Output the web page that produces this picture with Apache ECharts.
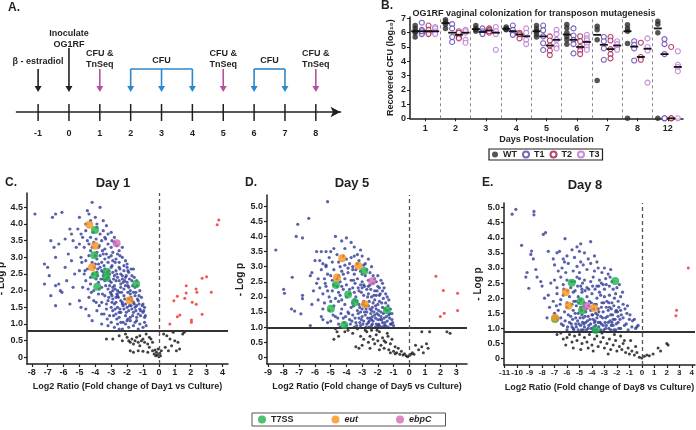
<!DOCTYPE html>
<html>
<head>
<meta charset="utf-8">
<script src="https://cdn.jsdelivr.net/npm/echarts@6/dist/echarts.min.js"></script>
<style>
  html, body { margin: 0; padding: 0; background: #fff; }
  #chart { width: 696px; height: 430px; }
</style>
</head>
<body>
<div id="chart"></div>
<script>
// ---------- A. timeline ----------
const timelineDays = [-1, 0, 1, 2, 3, 4, 5, 6, 7, 8];
const treatDays = [-1, 0];
const treatLabels = ['β - estradiol', 'Inoculate\nOG1RF'];
const tnseqDays = [1, 5, 8];
const cfuGroups = [[2, 3, 4], [6, 7]];

// ---------- B. CFU per mouse (log10) ----------
const cfuDays = ['1', '2', '3', '4', '5', '6', '7', '8', '12'];
const wtCFU = [
  [6.5, 6.3, 6.1, 6.0, 5.7], [6.9, 6.75, 6.6, 6.3], [6.5, 6.3, 6.2, 6.1], [6.4, 6.3, 6.2, 6.25],
  [6.5, 6.26, 6.1, 5.9, 5.7], [6.57, 6.33, 6.0, 5.74, 5.5, 5.19], [6.45, 6.2, 5.5, 2.65],
  [6.55, 6.3, 6.1, 5.25, 0], [6.8, 6.6, 6.0, 0]
];
const t1CFU = [
  [6.7, 6.2, 6.0, 5.9, 6.1], [6.6, 6.3, 5.7, 5.35], [6.3, 6.1, 6.0, 5.9], [6.5, 6.2, 6.0, 5.85],
  [6.5, 6.17, 5.74, 5.26, 4.79], [6.3, 5.8, 5.5, 5.2, 4.55], [5.7, 5.4, 4.9, 4.1],
  [5.4, 5.15, 4.9, 4.05], [5.55, 5.2, 4.5, 0, 0]
];
const t2CFU = [
  [6.5, 6.2, 6.0, 5.9], [6.1, 6.0, 5.7, 5.6], [6.3, 6.2, 6.0, 6.1], [6.0, 5.85, 5.6, 5.9],
  [5.74, 5.45, 5.1, 4.74, 4.43], [5.75, 5.4, 5.0, 4.75, 4.5], [5.7, 5.45, 4.85, 4.5, 4.2],
  [5.3, 4.3, 4.1], [5.0, 0, 0]
];
const t3CFU = [
  [6.4, 6.3, 6.1, 6.0, 5.9], [6.2, 6.0, 6.1, 5.5, 5.3], [6.4, 6.1, 5.9, 4.8], [6.3, 6.0, 5.5, 5.2],
  [6.2, 5.9, 5.5, 5.1, 4.9], [5.85, 5.6, 5.45, 5.25, 5.0, 4.8], [5.4, 5.2, 5.0, 4.8],
  [5.6, 5.0, 4.75, 2.5], [4.7, 3.75, 3.6, 3.3, 0]
];

// ---------- C. Day 1 volcano ----------
const d1Blue = [
  [-7.8,4.3],[-6.7,4.2],[-6.5,4.3],[-6.1,4.35],[-4.2,4.65],[-3.7,4.5],[-4.5,4.4],[-4.3,4.1],[-5.0,4.2],[-5.1,3.85],
  [-5.5,3.7],[-5.6,3.85],[-6.8,3.5],[-6.6,3.3],[-6.5,3.0],[-6.3,3.4],[-7.2,2.8],[-7.0,2.7],[-6.9,2.45],[-7.2,2.2],
  [-6.5,2.15],[-6.3,2.2],[-6.2,2.0],[-6.8,1.85],[-6.5,1.55],[-5.6,1.6],[-6.1,1.95],[-5.8,2.3],[-5.9,2.7],[-5.5,2.9],
  [-5.7,3.1],[-5.2,3.3],[-5.4,3.5],[-5.9,3.55],[-5.3,2.5],[-5.4,2.1],[-5.0,1.7],[-4.9,1.5],[-4.6,1.45],[-4.4,1.25],[-4.2,1.1],
  [-4.6,4.0],[-4.0,4.2],[-3.9,4.0],[-3.5,4.1],[-3.3,3.95],[-4.4,4.3],
  [-4.9,3.7],[-4.6,3.8],[-4.3,3.6],[-3.9,3.9],[-3.7,3.7],[-3.5,3.8],[-3.2,3.7],[-3.0,3.75],[-2.8,3.6],[-4.8,3.6],[-3.4,3.6],
  [-5.0,3.4],[-4.7,3.3],[-4.5,3.5],[-4.3,3.2],[-4.1,3.45],[-3.8,3.3],[-3.6,3.5],[-3.4,3.25],[-3.2,3.4],[-3.0,3.3],[-2.8,3.45],
  [-2.5,3.2],[-2.3,3.3],[-3.9,3.15],[-3.5,3.1],[-2.9,3.15],
  [-4.9,3.0],[-4.6,2.9],[-4.4,3.05],[-4.2,2.85],[-3.9,2.95],[-3.7,3.05],[-3.6,2.85],[-3.4,2.95],[-3.2,2.85],[-3.0,3.05],
  [-2.9,2.9],[-2.7,2.95],[-2.5,2.85],[-2.3,3.0],[-2.1,2.9],[-2.0,2.8],[-3.3,3.1],[-4.0,2.8],[-2.6,3.1],[-3.8,2.8],
  [-5.0,2.6],[-4.7,2.5],[-4.5,2.65],[-4.3,2.4],[-3.9,2.55],[-3.7,2.7],[-3.5,2.45],[-3.4,2.65],[-3.1,2.5],[-3.0,2.7],
  [-2.8,2.45],[-2.7,2.6],[-2.5,2.7],[-2.4,2.5],[-2.2,2.6],[-2.1,2.4],[-1.9,2.55],[-1.7,2.45],[-1.6,2.65],[-3.6,2.6],
  [-2.9,2.55],[-2.3,2.45],[-3.2,2.4],[-2.6,2.4],[-2.0,2.7],
  [-4.8,2.1],[-4.6,2.3],[-4.3,2.2],[-4.1,2.0],[-3.8,2.25],[-3.6,2.1],[-3.4,2.3],[-3.2,2.05],[-3.0,2.25],[-2.9,2.1],
  [-2.7,2.3],[-2.6,2.0],[-2.4,2.2],[-2.3,2.35],[-2.2,2.05],[-2.0,2.25],[-1.9,2.1],[-1.7,2.3],[-1.5,2.1],[-1.4,2.3],
  [-1.2,2.0],[-3.5,2.35],[-2.8,2.15],[-2.5,2.3],[-2.1,2.15],[-1.8,2.0],[-3.1,2.3],
  [-4.4,1.8],[-4.1,1.7],[-3.8,1.9],[-3.6,1.65],[-3.4,1.85],[-3.2,1.7],[-3.0,1.9],[-2.8,1.6],[-2.7,1.8],[-2.5,1.95],
  [-2.4,1.7],[-2.2,1.85],[-2.1,1.6],[-1.9,1.75],[-1.8,1.9],[-1.6,1.65],[-1.5,1.85],[-1.3,1.7],[-1.1,1.8],[-1.0,1.6],
  [-2.9,1.75],[-2.3,1.65],[-1.7,1.7],[-2.6,1.85],[-3.3,1.6],[-1.4,1.55],
  [-3.9,1.4],[-3.6,1.3],[-3.3,1.45],[-3.1,1.25],[-2.9,1.4],[-2.7,1.3],[-2.6,1.5],[-2.4,1.35],[-2.2,1.45],[-2.1,1.25],
  [-1.9,1.4],[-1.8,1.2],[-1.6,1.35],[-1.5,1.5],[-1.3,1.3],[-1.2,1.45],[-1.0,1.35],[-0.9,1.5],[-0.9,1.2],[-2.5,1.2],
  [-2.0,1.5],[-1.4,1.2],[-3.0,1.5],[-1.7,1.45],
  [-3.6,1.0],[-3.2,0.95],[-3.0,1.05],[-2.8,0.9],[-2.6,1.0],[-2.4,1.05],[-2.3,0.85],[-2.1,1.0],[-1.9,0.9],[-1.8,1.1],
  [-1.6,0.95],[-1.5,1.05],[-1.3,0.85],[-1.2,1.0],[-1.0,0.9],[-0.9,1.05],[-0.8,0.95],[-2.5,0.85],[-2.0,1.1],[-1.4,1.1],
  [-3.45,2.75],[-3.15,2.6],[-2.85,2.35],[-2.65,2.5],[-2.45,2.65],[-2.25,2.25],[-2.05,2.45],[-1.85,2.35],[-1.65,2.15],[-1.45,1.95],
  [-3.35,2.15],[-3.05,1.95],[-2.75,2.05],[-2.55,1.8],[-2.35,1.95],[-2.15,1.75],[-1.95,1.95],[-1.75,1.8],[-1.55,1.6],[-1.25,1.6],
  [-3.15,1.8],[-2.95,1.65],[-2.75,1.45],[-2.45,1.45],[-2.25,1.55],[-2.05,1.35],[-1.85,1.55],[-1.65,1.25],[-1.45,1.4],[-1.15,1.25],
  [-3.55,1.9],[-3.75,2.05],[-3.95,2.35],[-4.15,2.5],[-4.05,2.7],[-3.85,2.45],[-3.65,2.35],[-3.25,2.55],[-2.95,2.75],[-2.75,2.85],
  [-3.55,3.2],[-3.75,3.35],[-3.95,3.55],[-4.15,3.75],[-3.35,3.55],[-3.15,3.0],[-2.95,3.5],[-2.65,3.35],[-2.45,3.05],[-2.2,2.75],
  [-1.95,2.6],[-1.75,2.65],[-1.55,2.4],[-1.35,2.15],[-1.25,1.85],[-1.05,1.55],[-0.95,1.4],[-0.85,1.25],[-1.95,1.15],[-2.25,1.05],
  [-2.65,1.15],[-2.85,1.25],[-3.25,1.15],[-3.45,1.3],[-3.75,1.55],[-3.95,1.65],[-4.25,1.95],[-4.45,2.05],[-4.65,2.6],[-4.85,2.85],
  [-4.4,3.4],[-4.2,3.3],[-4.0,3.05],[-3.85,2.65],[-3.5,2.55],[-3.3,2.35],[-3.1,2.15],[-2.9,2.0],[-2.65,1.9],[-2.4,2.1],
  [-2.15,2.3],[-1.95,2.15],[-1.75,1.55],[-1.6,1.95],[-1.35,1.75],[-1.15,1.4],[-2.3,1.6],[-2.5,1.35],[-2.7,1.65],[-2.95,1.85]
];
const d1Black = [
  [-3.3,0.55],[-2.9,0.55],[-2.1,0.7],[-2.0,0.6],[-1.9,0.5],[-1.8,0.45],[-1.7,0.55],[-1.6,0.4],[-1.5,0.5],[-1.4,0.6],
  [-1.3,0.45],[-1.2,0.35],[-1.1,0.5],[-1.0,0.55],[-0.9,0.45],[-0.8,0.7],[-0.7,0.4],[-0.6,0.3],[-0.5,0.55],[-0.4,0.2],
  [-0.3,0.1],[-0.2,0.05],[-0.1,0.08],[0.0,0.02],[0.05,0.12],[0.1,0.05],[-0.15,0.15],[-0.25,0.22],[0.15,0.2],[-0.05,0.25],
  [-1.8,0.2],[-1.6,0.15],[-1.3,0.2],[-1.0,0.18],[-0.7,0.15],[-2.3,0.5],[-2.5,0.65],[-1.2,0.65],[0.3,0.7],[0.5,0.65],
  [0.7,0.55],[0.8,0.35],[0.9,0.75],[1.0,0.5],[1.2,0.45],[1.3,0.25],[1.5,0.7],[1.6,0.75],[0.6,0.2],[0.4,0.3],[1.1,0.2],
  [-0.4,0.45],[-0.6,0.6]
];
const d1Red = [
  [3.77,4.12],[3.67,3.98],[3.0,2.42],[2.72,2.37],[3.3,1.95],[2.34,2.05],[2.39,1.95],[1.72,2.15],[1.72,1.93],[1.16,1.83],
  [1.63,1.77],[0.94,1.7],[2.1,1.65],[2.35,1.59],[2.72,1.29],[1.32,1.27],[1.16,1.22],[2.05,1.12],[0.69,1.0],[2.05,1.05]
];
const d1T7SS = [[-4.02,3.82],[-4.07,3.06],[-4.04,2.46],[-3.29,2.57],[-3.29,2.39],[-3.88,2.12],[-1.43,2.2]];
const d1Eut = [[-4.38,3.98],[-4.02,3.35],[-4.21,2.7],[-1.84,1.71]];
const d1EbpC = [[-2.66,3.42]];

// ---------- D. Day 5 volcano ----------
const d5Blue = [
  [-5.2,5.15],[-7.1,4.4],[-6.4,4.6],[-7.2,4.0],[-6.8,3.95],[-8.5,3.55],[-7.45,2.65],[-8.0,2.25],[-7.95,2.12],[-6.8,2.05],
  [-6.8,1.94],[-7.5,1.6],[-7.3,1.53],[-6.9,1.44],[-6.3,1.05],[-6.0,3.2],[-5.3,3.0],[-6.2,2.8],[-6.3,2.7],[-5.9,2.45],
  [-6.1,2.2],[-5.8,1.9],[-6.2,1.75],[-5.6,1.35],[-5.5,1.25],[-5.2,1.15],[-5.9,3.5],[-5.6,3.5],
  [-4.7,4.0],[-4.3,3.85],[-4.0,3.95],[-3.7,3.8],[-3.5,3.65],[-4.8,3.6],[-5.3,3.5],[-5.0,3.5],[-3.1,3.55],[-4.1,3.6],[-3.3,3.4],
  [-5.7,3.2],[-5.5,3.1],[-5.1,3.3],[-4.9,3.15],[-4.6,3.4],[-4.4,3.0],[-4.0,3.25],[-3.8,3.1],[-3.5,3.35],[-3.2,3.2],
  [-3.0,3.35],[-2.8,3.1],[-2.6,3.25],[-2.4,3.0],[-5.3,3.05],[-4.2,3.35],[-3.6,3.0],[-2.9,3.05],
  [-5.6,2.9],[-5.4,2.6],[-5.2,2.75],[-4.9,2.55],[-4.8,2.9],[-4.5,2.7],[-4.3,2.85],[-4.1,2.6],[-3.9,2.8],[-3.7,2.55],
  [-3.5,2.75],[-3.3,2.6],[-3.1,2.85],[-3.0,2.5],[-2.8,2.7],[-2.6,2.55],[-2.5,2.8],[-2.2,2.6],[-2.0,2.7],[-1.8,2.55],
  [-1.7,2.45],[-4.4,2.5],[-3.6,2.9],[-2.7,2.9],[-2.3,2.45],
  [-5.7,2.3],[-5.5,2.1],[-5.3,2.35],[-5.1,2.0],[-4.9,2.2],[-4.6,2.35],[-4.4,2.05],[-4.2,2.25],[-4.0,2.4],[-3.8,2.1],
  [-3.6,2.3],[-3.4,2.0],[-3.2,2.2],[-3.1,2.4],[-2.9,2.05],[-2.7,2.25],[-2.5,2.4],[-2.4,2.0],[-2.2,2.2],[-2.0,2.35],
  [-1.9,2.05],[-1.7,2.2],[-1.5,2.1],[-1.4,2.0],[-3.5,2.15],[-2.6,2.1],[-3.0,2.3],[-2.1,2.05],[-4.8,2.4],
  [-5.4,1.8],[-5.1,1.55],[-4.8,1.7],[-4.5,1.85],[-4.3,1.6],[-4.1,1.75],[-3.9,1.5],[-3.7,1.65],[-3.5,1.9],[-3.3,1.55],
  [-3.2,1.75],[-3.0,1.6],[-2.9,1.85],[-2.7,1.5],[-2.6,1.7],[-2.4,1.55],[-2.3,1.8],[-2.1,1.6],[-2.0,1.75],[-1.8,1.5],
  [-1.7,1.65],[-1.5,1.8],[-1.4,1.55],[-1.2,1.6],[-3.6,1.8],[-2.8,1.7],[-2.2,1.9],[-1.9,1.85],[-2.5,1.6],[-3.1,1.5],
  [-5.0,1.2],[-4.7,1.35],[-4.5,1.1],[-4.2,1.3],[-4.0,1.05],[-3.8,1.25],[-3.6,1.4],[-3.4,1.15],[-3.2,1.3],[-3.1,1.05],
  [-2.9,1.2],[-2.8,1.4],[-2.7,1.1],[-2.5,1.3],[-2.4,1.05],[-2.3,1.2],[-2.2,1.4],[-2.1,1.1],[-2.0,1.25],[-1.9,1.05],
  [-1.8,1.35],[-1.7,1.15],[-1.6,1.3],[-1.5,1.05],[-1.4,1.2],[-1.3,1.4],[-1.2,1.1],[-1.1,1.25],[-1.0,1.05],[-2.6,1.15],
  [-2.35,1.35],[-1.95,1.4],[-3.0,1.35],[-2.55,1.0],[-1.75,1.0],[-3.5,1.0],[-2.15,1.3],
  [-3.45,2.45],[-3.25,2.3],[-3.05,2.15],[-2.85,2.35],[-2.65,2.0],[-2.45,2.25],[-2.25,2.05],[-2.05,2.2],[-1.85,2.1],[-1.65,1.95],
  [-3.55,1.7],[-3.35,1.85],[-3.15,1.65],[-2.95,1.75],[-2.75,1.6],[-2.55,1.85],[-2.35,1.65],[-2.15,1.7],[-1.95,1.55],[-1.75,1.8],
  [-1.55,1.6],[-1.35,1.7],[-1.25,1.45],[-1.45,1.35],[-1.65,1.45],[-1.85,1.25],[-2.05,1.45],[-2.25,1.5],[-2.45,1.45],[-2.65,1.3],
  [-2.85,1.5],[-3.05,1.25],[-3.25,1.45],[-3.45,1.3],[-3.65,1.2],[-3.85,1.45],[-4.05,1.35],[-4.35,1.45],[-4.55,1.3],[-4.85,1.4],
  [-1.15,1.1],[-1.35,1.0],[-1.55,1.15],[-1.75,1.25],[-1.95,1.1],[-2.15,1.0],[-2.35,1.1],[-2.55,1.2],[-2.75,1.0],[-2.95,1.1],
  [-3.15,1.15],[-3.35,1.05],[-3.75,1.1],[-4.15,1.15],[-4.4,1.0],[-1.05,1.15],[-1.25,1.3],[-1.6,1.05],[-2.0,1.05],[-2.4,1.25],
  [-3.8,2.25],[-4.0,2.0],[-4.3,2.35],[-4.5,2.15],[-4.7,1.95],[-5.0,1.85],[-5.2,2.2],[-5.5,1.6],[-4.6,2.6],[-4.2,2.75],
  [-3.9,2.95],[-3.7,3.3],[-3.4,2.9],[-3.3,3.1],[-3.0,2.75],[-2.9,2.4],[-2.6,2.35],[-2.3,2.7],[-2.1,2.5],[-1.9,2.3],
  [-1.6,2.3],[-1.3,1.9],[-1.1,1.45],[-4.1,3.05],[-4.5,3.15],[-5.0,2.7],[-5.35,2.45],[-5.8,2.6],[-4.3,1.9],[-3.55,2.55]
];
const d5Black = [
  [-4.7,0.95],[-4.6,0.85],[-4.8,0.6],[-4.5,0.7],[-4.1,0.85],[-3.9,0.9],[-3.6,0.8],[-3.4,0.35],[-3.2,0.3],[-3.0,0.4],
  [-3.1,0.7],[-2.9,0.6],[-2.7,0.85],[-2.6,0.5],[-2.5,0.7],[-2.4,0.9],[-2.3,0.6],[-2.2,0.45],[-2.1,0.75],[-2.0,0.55],
  [-1.9,0.85],[-1.8,0.4],[-1.7,0.65],[-1.6,0.3],[-1.5,0.5],[-1.4,0.8],[-1.3,0.25],[-1.2,0.45],[-1.1,0.6],[-1.0,0.2],
  [-0.9,0.35],[-0.8,0.15],[-0.7,0.3],[-0.6,0.1],[-0.5,0.2],[-0.4,0.08],[-0.3,0.12],[-0.2,0.05],[-0.1,0.02],[0.0,0.06],
  [0.1,0.1],[0.2,0.15],[0.3,0.1],[-1.2,0.15],[-0.9,0.12],[-1.6,0.55],[-2.5,0.3],[-1.9,0.25],[-2.8,0.9],[-3.3,0.95],
  [0.6,0.25],[0.8,0.35],[0.9,0.15],[1.2,0.3],[1.1,0.45],[0.4,0.4],[1.3,0.85],[0.8,0.85],[2.4,0.85],[2.6,0.8],
  [-1.35,0.7],[-2.05,0.9]
];
const d5Red = [[1.7,2.68],[2.17,2.21],[3.08,2.12],[3.08,1.55],[2.23,1.46],[1.98,1.35]];
const d5T7SS = [[-2.87,2.86],[-4.67,2.39],[-3.89,2.08],[-3.46,1.82],[-4.99,1.61],[-1.42,1.56],[-4.14,1.07]];
const d5Eut = [[-4.27,3.28],[-3.25,3.03],[-4.6,2.64],[-2.82,1.76]];
const d5EbpC = [[-2.36,2.52]];

// ---------- E. Day 8 volcano ----------
const d8Blue = [
  [-10.4,4.78],[-10.1,4.94],[-8.65,4.87],[-8.65,4.76],[-9.64,3.75],[-7.9,4.11],[-7.72,4.17],[-8.84,3.56],[-8.9,3.45],
  [-8.7,3.3],[-9.2,2.85],[-9.3,2.7],[-8.5,2.95],[-8.4,2.7],[-9.06,2.33],[-8.1,2.55],[-8.0,2.4],[-7.5,3.55],[-7.1,3.3],
  [-6.8,3.5],[-6.16,3.97],[-4.1,3.87],[-7.8,2.0],[-7.4,1.7],[-7.6,1.35],
  [-5.6,3.6],[-5.2,3.7],[-5.0,3.55],[-4.6,3.5],[-4.3,3.3],[-6.0,3.4],[-6.3,3.3],[-5.4,3.35],[-3.8,3.4],[-4.9,3.8],[-6.6,3.55],
  [-7.0,3.1],[-6.7,2.9],[-6.4,3.0],[-6.1,2.85],[-5.9,3.15],[-5.5,2.9],[-5.2,3.05],[-5.0,2.85],[-4.7,3.1],[-4.4,2.95],
  [-4.1,3.15],[-3.8,2.9],[-3.5,3.0],[-3.2,2.85],[-3.0,3.0],[-2.7,2.8],[-2.5,2.95],[-6.2,3.2],[-4.9,3.2],[-3.6,3.2],
  [-7.3,2.5],[-7.0,2.6],[-6.8,2.35],[-6.5,2.7],[-6.3,2.45],[-6.0,2.6],[-5.7,2.35],[-5.4,2.55],[-5.2,2.7],[-4.9,2.4],
  [-4.6,2.6],[-4.4,2.35],[-4.1,2.55],[-3.9,2.7],[-3.6,2.4],[-3.4,2.6],[-3.1,2.45],[-2.9,2.65],[-2.6,2.4],[-2.4,2.55],
  [-2.0,2.35],[-1.8,2.45],[-5.0,2.65],[-3.0,2.3],[-4.8,2.3],
  [-7.5,2.1],[-7.1,1.9],[-6.8,2.15],[-6.5,1.95],[-6.3,2.1],[-6.0,1.85],[-5.8,2.05],[-5.5,2.2],[-5.3,1.9],[-5.1,2.05],
  [-4.8,2.2],[-4.6,1.85],[-4.4,2.05],[-4.2,1.9],[-4.0,2.15],[-3.8,1.8],[-3.6,2.0],[-3.4,2.2],[-3.2,1.85],[-3.0,2.05],
  [-2.8,1.9],[-2.6,2.1],[-2.4,1.85],[-2.2,2.0],[-1.9,1.9],[-1.7,2.05],[-1.5,1.8],[-5.6,1.8],[-3.3,2.1],[-4.9,1.95],
  [-7.0,1.5],[-6.7,1.6],[-6.5,1.35],[-6.2,1.55],[-6.0,1.7],[-5.7,1.4],[-5.5,1.6],[-5.3,1.35],[-5.1,1.5],[-4.9,1.7],
  [-4.7,1.35],[-4.5,1.55],[-4.3,1.4],[-4.1,1.6],[-3.9,1.3],[-3.7,1.5],[-3.5,1.65],[-3.3,1.4],[-3.1,1.55],[-2.9,1.35],
  [-2.7,1.6],[-2.5,1.45],[-2.3,1.3],[-2.1,1.55],[-1.9,1.4],[-1.7,1.6],[-1.5,1.35],[-1.2,1.5],[-1.0,1.3],[-4.8,1.45],
  [-3.6,1.35],[-2.6,1.7],[-5.9,1.45],[-4.0,1.45],
  [-6.3,1.1],[-6.0,0.95],[-5.8,1.2],[-5.5,1.0],[-5.3,1.15],[-5.1,0.95],[-4.9,1.1],[-4.7,0.95],[-4.5,1.2],[-4.3,1.0],
  [-4.1,1.15],[-3.9,0.95],[-3.7,1.1],[-3.5,1.2],[-3.3,0.95],[-3.1,1.1],[-2.9,1.0],[-2.7,1.2],[-2.5,0.95],[-2.3,1.1],
  [-2.1,0.95],[-1.9,1.2],[-1.7,1.0],[-1.4,1.1],[-1.1,0.95],[-0.8,1.05],[-0.5,1.0],[-0.3,1.1],[-4.6,1.05],[-3.8,1.2],
  [-2.4,1.2],[-5.6,1.05],
  [-5.45,1.9],[-5.25,1.75],[-5.05,1.85],[-4.85,1.6],[-4.65,1.75],[-4.45,1.65],[-4.25,1.75],[-4.05,1.85],[-3.85,1.65],[-3.65,1.8],
  [-3.45,1.55],[-3.25,1.7],[-3.05,1.85],[-2.85,1.7],[-2.65,1.85],[-2.45,1.65],[-2.25,1.75],[-2.05,1.6],[-1.85,1.7],[-1.65,1.45],
  [-5.55,1.3],[-5.35,1.5],[-5.15,1.25],[-4.95,1.35],[-4.75,1.2],[-4.55,1.4],[-4.35,1.25],[-4.15,1.3],[-3.95,1.45],[-3.75,1.25],
  [-3.55,1.45],[-3.35,1.2],[-3.15,1.35],[-2.95,1.2],[-2.75,1.4],[-2.55,1.25],[-2.35,1.45],[-2.15,1.3],[-1.95,1.55],[-1.75,1.3],
  [-5.65,1.15],[-5.45,0.95],[-5.25,1.05],[-5.05,1.15],[-4.85,0.95],[-4.65,1.15],[-4.45,0.95],[-4.25,1.1],[-4.05,1.0],[-3.85,1.05],
  [-3.65,0.95],[-3.45,1.05],[-3.25,1.15],[-3.05,0.95],[-2.85,1.1],[-2.65,1.0],[-2.45,1.1],[-2.25,0.95],[-2.05,1.15],[-1.85,1.0],
  [-6.15,1.25],[-5.95,1.05],[-6.45,1.15],[-6.75,1.3],[-6.85,1.75],[-6.55,1.8],[-6.25,2.3],[-5.95,2.25],[-5.65,2.55],[-5.35,2.25],
  [-5.15,2.4],[-4.75,2.5],[-4.55,2.25],[-4.25,2.3],[-3.95,2.4],[-3.75,2.3],[-3.45,2.4],[-3.25,2.5],[-2.85,2.45],[-2.55,2.7],
  [-2.3,2.3],[-2.1,2.15],[-1.55,2.2],[-1.35,1.65],[-1.15,1.75],[-0.95,1.45],[-0.75,1.25],[-1.25,1.15],[-0.6,1.3],[-0.4,1.05]
];
const d8Black = [
  [-6.8,0.8],[-6.5,0.85],[-6.3,0.65],[-6.0,0.7],[-5.8,0.8],[-5.6,0.55],[-5.4,0.75],[-5.2,0.6],[-5.0,0.8],[-4.8,0.5],
  [-4.6,0.7],[-4.4,0.55],[-4.2,0.8],[-4.0,0.45],[-3.8,0.65],[-3.6,0.75],[-3.5,0.4],[-3.3,0.55],[-3.1,0.7],[-3.0,0.35],
  [-2.8,0.5],[-2.6,0.65],[-2.5,0.3],[-2.3,0.45],[-2.1,0.6],[-2.0,0.25],[-1.8,0.4],[-1.6,0.3],[-1.5,0.5],[-1.3,0.2],
  [-1.1,0.35],[-1.0,0.15],[-0.8,0.25],[-0.6,0.12],[-0.4,0.2],[-0.2,0.05],[0.0,0.02],[0.2,0.08],[0.4,0.12],[0.6,0.1],
  [0.9,0.15],[1.5,0.25],[1.3,0.35],[2.0,0.5],[2.1,0.45],[-4.9,0.3],[-4.3,0.35],[-3.9,0.25],[-2.7,0.15],[-1.4,0.6],
  [-0.5,0.4],[-2.2,0.8],[-1.7,0.75],[-3.2,0.85],[-0.9,0.6],[-5.5,0.35],[-6.1,0.45]
];
const d8Red = [[3.72,3.0],[2.78,1.6],[2.73,1.42]];
const d8T7SS = [[-5.62,2.51],[-2.14,2.57],[-4.9,1.9],[-4.79,1.6],[-6.96,1.31],[-3.69,0.95]];
const d8Eut = [[-6.1,2.2],[-5.86,1.75],[-3.83,1.68],[-6.96,1.35]];
const d8EbpC = [[-4.42,1.74]];

// tick labels
const cTicksX = [-8,-7,-6,-5,-4,-3,-2,-1,0,1,2,3,4];
const cTicksY = [0,0.5,1.0,1.5,2.0,2.5,3.0,3.5,4.0,4.5];
const dTicksX = [-9,-8,-7,-6,-5,-4,-3,-2,-1,0,1,2,3];
const dTicksY = [0,0.5,1.0,1.5,2.0,2.5,3.0,3.5,4.0,4.5,5.0];
const eTicksX = [-11,-10,-9,-8,-7,-6,-5,-4,-3,-2,-1,0,1,2,3,4];
const eTicksY = [0,0.5,1.0,1.5,2.0,2.5,3.0,3.5,4.0,4.5,5.0];
const cfuTicksY = [0,1,2,3,4,5,6,7];
const sigLines = [0.79, 0.97, 0.88];

const FONT = '"Liberation Sans", Arial, sans-serif';
const INK = '#231f20';
const MAGENTA = '#b4519f';
const CFU_BLUE = '#2d87cc';

const myChart = echarts.init(document.getElementById('chart'));

function median(a) {
  const s = a.slice().sort((x, y) => x - y);
  const m = Math.floor(s.length / 2);
  return s.length % 2 ? s[m] : (s[m - 1] + s[m]) / 2;
}

function arrow(x, yTop, yTip, color) {
  return {
    type: 'group',
    children: [
      { type: 'line', shape: { x1: x, y1: yTop, x2: x, y2: yTip - 5 }, style: { stroke: color, lineWidth: 1.6 } },
      { type: 'polygon', shape: { points: [[x - 3.5, yTip - 6], [x + 3.5, yTip - 6], [x, yTip]] }, style: { fill: color } }
    ]
  };
}

function label(x, y, text) {
  return {
    type: 'text', x: x, y: y,
    style: { text: text, fill: INK, font: 'bold 9px ' + FONT, textAlign: 'center', textVerticalAlign: 'bottom', verticalAlign: 'bottom', lineHeight: 11 }
  };
}

// ---- panel B helpers ----
const groupNames = ['WT', 'T1', 'T2', 'T3'];
const groupData = [wtCFU, t1CFU, t2CFU, t3CFU];
const groupColors = ['#2a2a2a', '#5b3ba9', '#a3174f', '#b771d2'];
const groupOffset = [-0.33, -0.11, 0.11, 0.33];

const cfuSeries = groupNames.map((name, gi) => {
  const pts = [];
  groupData[gi].forEach((vals, di) => vals.forEach(v => pts.push([di + 0.5 + groupOffset[gi], v])));
  const s = {
    name: name,
    type: 'scatter',
    xAxisIndex: 2,
    yAxisIndex: 1,
    symbol: 'circle',
    symbolSize: gi === 0 ? 5.5 : 5,
    itemStyle: gi === 0
      ? { color: groupColors[gi] }
      : { color: '#fff', borderColor: groupColors[gi], borderWidth: 1.1 },
    data: pts,
    z: 3
  };
  if (gi === 0) {
    s.markLine = {
      silent: true, symbol: ['none', 'none'], label: { show: false },
      lineStyle: { color: '#8a8a8a', type: [3, 3], width: 1 },
      data: cfuDays.slice(1).map((d, i) => ({ xAxis: i + 1 }))
    };
  }
  return s;
});

const medianData = [];
groupData.forEach((g, gi) => g.forEach((vals, di) => medianData.push([di + 0.5 + groupOffset[gi], median(vals)])));

// ---- volcano helpers ----
function volcanoAxes(k, xr, yr, xt, yt, dayName, yGap, xFont) {
  const axisStyle = { lineStyle: { color: INK, width: 1.5 } };
  return {
    x: {
      type: 'value', gridIndex: k + 2, min: xr[0], max: xr[1],
      axisLine: Object.assign({ show: true, onZero: false }, axisStyle),
      axisTick: { show: true, customValues: xt, length: 3, lineStyle: { color: INK, width: 1.2 } },
      axisLabel: { customValues: xt, showMinLabel: true, showMaxLabel: true, hideOverlap: false, color: INK, fontFamily: FONT, fontSize: xFont, fontWeight: 'bold', margin: 4 },
      splitLine: { show: false },
      name: 'Log2 Ratio (Fold change of ' + dayName + ' vs Culture)',
      nameLocation: 'middle', nameGap: 18,
      nameTextStyle: { color: INK, fontFamily: FONT, fontSize: 9, fontWeight: 'bold' }
    },
    y: {
      type: 'value', gridIndex: k + 2, min: yr[0], max: yr[1],
      axisLine: Object.assign({ show: true, onZero: false }, axisStyle),
      axisTick: { show: true, customValues: yt, length: 3, lineStyle: { color: INK, width: 1.2 } },
      axisLabel: { customValues: yt, color: INK, fontFamily: FONT, fontSize: 9, fontWeight: 'bold', margin: 4,
        formatter: v => (v === 0 ? '0' : v.toFixed(1)) },
      splitLine: { show: false },
      name: '- Log p', nameLocation: 'middle', nameGap: yGap,
      nameTextStyle: { color: INK, fontFamily: FONT, fontSize: 10, fontWeight: 'bold' }
    }
  };
}

function volcanoSeries(k, blue, black, red, t7, eut, ebp) {
  const base = { type: 'scatter', xAxisIndex: k + 3, yAxisIndex: k + 2, symbol: 'circle' };
  return [
    Object.assign({}, base, {
      name: 'down' + k, data: blue, symbolSize: 3.2, itemStyle: { color: '#2e3a96' }, z: 2,
      markLine: {
        silent: true, symbol: ['none', 'none'], label: { show: false },
        data: [
          { yAxis: sigLines[k], lineStyle: { color: '#333', width: 2, type: 'solid' } },
          { xAxis: 0, lineStyle: { color: '#555', width: 1.3, type: [4, 3] } }
        ]
      }
    }),
    Object.assign({}, base, { name: 'ns' + k, data: black, symbolSize: 3, itemStyle: { color: '#111' }, z: 2 }),
    Object.assign({}, base, { name: 'up' + k, data: red, symbolSize: 3, itemStyle: { color: '#ee2a24' }, z: 2 }),
    Object.assign({}, base, { name: 'T7SS', data: t7, symbolSize: 8, itemStyle: { color: '#22b24c' }, z: 5 }),
    Object.assign({}, base, { name: 'eut', data: eut, symbolSize: 8, itemStyle: { color: '#f7941d' }, z: 6 }),
    Object.assign({}, base, { name: 'ebpC', data: ebp, symbolSize: 8, itemStyle: { color: '#d36cb6' }, z: 6 })
  ];
}

const axC = volcanoAxes(0, [-8.3, 4.35], [-0.2, 4.93], cTicksX, cTicksY, 'Day1', 15, 9);
const axD = volcanoAxes(1, [-9.06, 3.68], [-0.22, 5.37], dTicksX, dTicksY, 'Day5', 22, 9);
const axE = volcanoAxes(2, [-11.05, 4.26], [-0.21, 5.15], eTicksX, eTicksY, 'Day8', 19, 8);

const boldText = { color: INK, fontFamily: FONT, fontSize: 9, fontWeight: 'bold' };

const option = {
  animation: false,
  backgroundColor: '#fff',
  textStyle: { fontFamily: FONT },
  grid: [
    { left: 16.5, top: 20, width: 324, height: 92, outerBoundsMode: 'none' },
    { left: 410, top: 17, width: 273, height: 101.3, outerBoundsMode: 'none' },
    { left: 27, top: 193, width: 201, height: 171, outerBoundsMode: 'none' },
    { left: 267, top: 195, width: 200, height: 169, outerBoundsMode: 'none' },
    { left: 504, top: 203, width: 191, height: 162, outerBoundsMode: 'none' }
  ],
  xAxis: [
    {
      type: 'value', gridIndex: 0, min: -1.7, max: 8.8,
      axisLine: { show: true, onZero: false, symbol: ['none', 'arrow'], symbolSize: [8, 10], lineStyle: { color: INK, width: 1.6 } },
      axisTick: { show: false },
      axisLabel: { customValues: timelineDays, margin: 17, color: INK, fontFamily: FONT, fontSize: 9, fontWeight: 'bold' },
      splitLine: { show: false }
    },
    {
      type: 'category', gridIndex: 1, data: cfuDays,
      axisLine: { show: true, onZero: false, lineStyle: { color: INK, width: 1.5 } },
      axisTick: { show: true, alignWithLabel: true, length: 3, lineStyle: { color: INK } },
      axisLabel: Object.assign({ margin: 6 }, boldText),
      splitLine: { show: false },
      name: 'Days Post-Inoculation', nameLocation: 'middle', nameGap: 17, nameTextStyle: boldText
    },
    { type: 'value', gridIndex: 1, min: 0, max: 9, show: false },
    axC.x, axD.x, axE.x
  ],
  yAxis: [
    { type: 'value', gridIndex: 0, min: 0, max: 1, show: false },
    {
      type: 'value', gridIndex: 1, min: 0, max: 7.1,
      axisLine: { show: true, onZero: false, lineStyle: { color: INK, width: 1.5 } },
      axisTick: { show: true, customValues: cfuTicksY, length: 3, lineStyle: { color: INK } },
      axisLabel: Object.assign({ customValues: cfuTicksY, margin: 4 }, boldText),
      splitLine: { show: false },
      name: 'Recovered CFU (log₁₀)', nameLocation: 'middle', nameGap: 15, nameTextStyle: boldText
    },
    axC.y, axD.y, axE.y
  ],
  legend: [
    {
      data: groupNames, left: 489, top: 149, selectedMode: false,
      itemWidth: 6, itemHeight: 6, itemGap: 5, padding: [1, 3],
      borderColor: INK, borderWidth: 1.2, textStyle: boldText
    },
    {
      data: ['T7SS', 'eut', 'ebpC'], left: 252, top: 413, selectedMode: false, icon: 'circle',
      itemWidth: 8, itemHeight: 8, itemGap: 38, padding: [2, 14, 2, 6],
      borderColor: '#555', borderWidth: 1,
      formatter: n => (n === 'T7SS' ? n : '{it|' + n + '}'),
      textStyle: Object.assign({}, boldText, { rich: { it: { fontStyle: 'italic', fontWeight: 'bold', fontSize: 9, fontFamily: FONT, color: INK } } })
    }
  ],
  graphic: [
    { type: 'text', left: 8, top: 2, style: { text: 'A.', font: 'bold 12px ' + FONT, fill: INK } },
    { type: 'text', left: 381, top: 0, style: { text: 'B.', font: 'bold 12px ' + FONT, fill: INK } },
    { type: 'text', x: 534, y: 14, style: { text: 'OG1RF vaginal colonization for transposon mutagenesis', font: 'bold 9px ' + FONT, fill: INK, textAlign: 'center', textVerticalAlign: 'middle' } },
    { type: 'text', left: 5, top: 177, style: { text: 'C.', font: 'bold 12px ' + FONT, fill: INK } },
    { type: 'text', x: 113, y: 183, style: { text: 'Day 1', font: 'bold 13px ' + FONT, fill: INK, textAlign: 'center', textVerticalAlign: 'middle' } },
    { type: 'text', left: 245, top: 177, style: { text: 'D.', font: 'bold 12px ' + FONT, fill: INK } },
    { type: 'text', x: 352, y: 183, style: { text: 'Day 5', font: 'bold 13px ' + FONT, fill: INK, textAlign: 'center', textVerticalAlign: 'middle' } },
    { type: 'text', left: 482, top: 177, style: { text: 'E.', font: 'bold 12px ' + FONT, fill: INK } },
    { type: 'text', x: 585, y: 185, style: { text: 'Day 8', font: 'bold 13px ' + FONT, fill: INK, textAlign: 'center', textVerticalAlign: 'middle' } }
  ],
  series: [
    // A: ticks on the timeline
    {
      type: 'custom', xAxisIndex: 0, yAxisIndex: 0, silent: true,
      data: timelineDays.map(d => [d, 0]),
      renderItem: (params, api) => {
        const p = api.coord([api.value(0), 0]);
        return { type: 'line', shape: { x1: p[0], y1: p[1] - 8, x2: p[0], y2: p[1] + 9 }, style: { stroke: INK, lineWidth: 1.5 } };
      }
    },
    // A: estradiol / inoculation arrows
    {
      type: 'custom', xAxisIndex: 0, yAxisIndex: 0, silent: true,
      data: treatDays.map((d, i) => [d, i]),
      renderItem: (params, api) => {
        const p = api.coord([api.value(0), 0]);
        const i = params.dataIndex;
        const top = p[1] - (i === 0 ? 43 : 64);
        return { type: 'group', children: [arrow(p[0], top, p[1] - 20, INK), label(p[0], top + (i === 0 ? -2 : 2), treatLabels[i])] };
      }
    },
    // A: CFU & TnSeq arrows
    {
      type: 'custom', xAxisIndex: 0, yAxisIndex: 0, silent: true,
      data: tnseqDays.map(d => [d, 0]),
      renderItem: (params, api) => {
        const p = api.coord([api.value(0), 0]);
        return { type: 'group', children: [arrow(p[0], p[1] - 43, p[1] - 20, MAGENTA), label(p[0], p[1] - 42, 'CFU &\nTnSeq')] };
      }
    },
    // A: CFU-only brackets
    {
      type: 'custom', xAxisIndex: 0, yAxisIndex: 0, silent: true,
      data: cfuGroups.map(g => [g[0], g[g.length - 1]]),
      renderItem: (params, api) => {
        const g = cfuGroups[params.dataIndex];
        const pts = g.map(d => api.coord([d, 0]));
        const yBar = pts[0][1] - 43;
        const kids = [{ type: 'line', shape: { x1: pts[0][0], y1: yBar, x2: pts[pts.length - 1][0], y2: yBar }, style: { stroke: CFU_BLUE, lineWidth: 1.6 } }];
        pts.forEach(p => kids.push(arrow(p[0], yBar, p[1] - 20, CFU_BLUE)));
        kids.push(label((pts[0][0] + pts[pts.length - 1][0]) / 2, yBar - 3, 'CFU'));
        return { type: 'group', children: kids };
      }
    },
    // B
    ...cfuSeries,
    {
      type: 'custom', xAxisIndex: 2, yAxisIndex: 1, silent: true, z: 4,
      data: medianData,
      renderItem: (params, api) => {
        const p = api.coord([api.value(0), api.value(1)]);
        return { type: 'line', shape: { x1: p[0] - 4, y1: p[1], x2: p[0] + 4, y2: p[1] }, style: { stroke: '#111', lineWidth: 1.8 } };
      }
    },
    // C, D, E
    ...volcanoSeries(0, d1Blue, d1Black, d1Red, d1T7SS, d1Eut, d1EbpC),
    ...volcanoSeries(1, d5Blue, d5Black, d5Red, d5T7SS, d5Eut, d5EbpC),
    ...volcanoSeries(2, d8Blue, d8Black, d8Red, d8T7SS, d8Eut, d8EbpC)
  ]
};

myChart.setOption(option);
</script>
</body>
</html>
